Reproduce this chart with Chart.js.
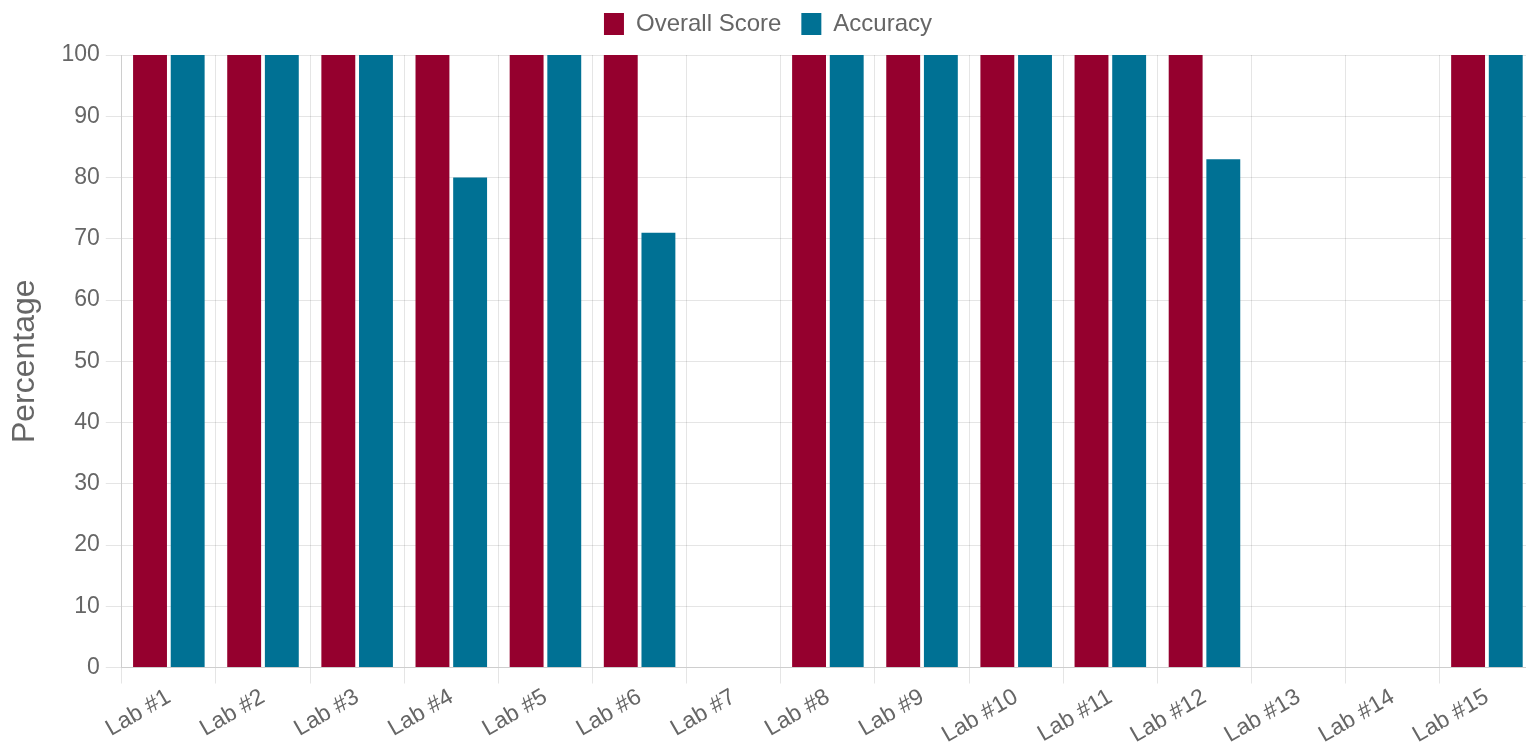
<!DOCTYPE html>
<html>
<head>
<meta charset="utf-8">
<script src="https://cdn.jsdelivr.net/npm/chart.js@4/dist/chart.umd.min.js"></script>
<style>
  html, body { margin: 0; padding: 0; background: #fff; overflow: hidden; }
  #wrap { width: 1534px; height: 749px; }
</style>
</head>
<body>
<div id="wrap"><canvas id="myChart"></canvas></div>
<script>
const labs = ['Lab #1', 'Lab #2', 'Lab #3', 'Lab #4', 'Lab #5', 'Lab #6', 'Lab #7', 'Lab #8',
  'Lab #9', 'Lab #10', 'Lab #11', 'Lab #12', 'Lab #13', 'Lab #14', 'Lab #15'];
const overallScore = [100, 100, 100, 100, 100, 100, 0, 100, 100, 100, 100, 100, 0, 0, 100];
const accuracy = [100, 100, 100, 80, 100, 71, 0, 100, 100, 100, 100, 83, 0, 0, 100];

Chart.defaults.font.family = '"Liberation Sans", Arial, sans-serif';
Chart.defaults.color = '#666';

// extra room under the legend
const legendSpace = {
  id: 'legendSpace',
  beforeInit(chart) {
    const fit = chart.legend.fit;
    chart.legend.fit = function () {
      fit.bind(chart.legend)();
      this.height += 9;
    };
  }
};

const data = {
  labels: labs,
  datasets: [{
    label: 'Overall Score',
    backgroundColor: '#95002e',
    data: overallScore
  }, {
    label: 'Accuracy',
    backgroundColor: '#007194',
    data: accuracy
  }]
};

const config = {
  type: 'bar',
  data: data,
  plugins: [legendSpace],
  options: {
    responsive: true,
    maintainAspectRatio: false,
    animation: false,
    layout: {
      padding: { left: 2, right: 0, top: -8, bottom: 0 }
    },
    plugins: {
      legend: {
        labels: {
          font: { size: 24 },
          boxWidth: 20,
          boxHeight: 22,
          padding: 20
        }
      },
      tooltip: { enabled: false }
    },
    scales: {
      x: {
        grid: { tickLength: 16, color: 'rgba(0,0,0,0.1)' },
        ticks: {
          font: { size: 23 },
          maxRotation: 30,
          minRotation: 30,
          padding: 0
        }
      },
      y: {
        min: 0,
        max: 100,
        grid: { tickLength: 16, color: 'rgba(0,0,0,0.1)' },
        ticks: {
          stepSize: 10,
          font: { size: 23 },
          padding: 6
        },
        title: {
          display: true,
          text: 'Percentage',
          font: { size: 32 },
          padding: { top: 4, bottom: 11 }
        }
      }
    }
  }
};

const myChart = new Chart(document.getElementById('myChart'), config);
</script>
</body>
</html>
